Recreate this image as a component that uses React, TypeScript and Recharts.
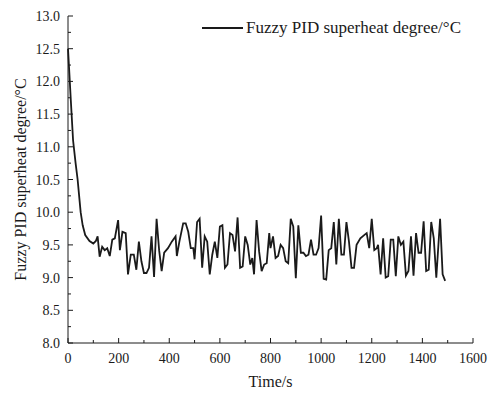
import { Legend, Line, LineChart, XAxis, YAxis } from "recharts";

const times = [
  0, 4, 11, 20, 30, 38, 44, 50, 58, 68, 85, 100, 110, 117, 125, 135, 145, 155, 165, 175, 185, 198,
  205, 215, 228, 237, 248, 260, 270, 280, 290, 300, 310, 320, 330, 340, 350, 360, 370, 380, 395,
  410, 425, 430, 440, 455, 465, 475, 485, 495, 500, 510, 520, 530, 540, 550, 560, 570, 580, 590,
  600, 610, 620, 630, 640, 650, 660, 670, 680, 690, 700, 710, 720, 728, 735, 745, 755, 765, 775,
  785, 795, 800, 810, 820, 830, 840, 850, 860, 870, 880, 890, 900, 910, 920, 930, 940, 950, 960,
  970, 980, 990, 1000, 1010, 1020, 1030, 1040, 1050, 1060, 1070, 1080, 1090, 1100, 1110, 1120,
  1130, 1140, 1155, 1170, 1180, 1190, 1200, 1210, 1220, 1225, 1235, 1245, 1255, 1265, 1275, 1285,
  1295, 1305, 1315, 1325, 1335, 1345, 1355, 1365, 1375, 1385, 1395, 1405, 1415, 1425, 1435, 1445,
  1455, 1470, 1480, 1490,
];

const superheat = [
  12.5, 12.22, 11.72, 11.1, 10.75, 10.5, 10.25, 10.0, 9.8, 9.65, 9.56, 9.52, 9.56, 9.63, 9.32, 9.47,
  9.42, 9.45, 9.33, 9.58, 9.6, 9.88, 9.42, 9.7, 9.68, 9.05, 9.35, 9.35, 9.12, 9.55, 9.25, 9.07,
  9.07, 9.15, 9.63, 9.01, 9.9, 9.42, 9.1, 9.38, 9.45, 9.55, 9.63, 9.33, 9.55, 9.83, 9.83, 9.7,
  9.45, 9.45, 9.28, 9.85, 9.9, 9.15, 9.63, 9.55, 9.05, 9.35, 9.55, 9.3, 9.78, 9.8, 9.15, 9.2,
  9.68, 9.65, 9.4, 9.92, 9.15, 9.17, 9.63, 9.5, 9.2, 9.3, 9.05, 9.88, 9.4, 9.1, 9.2, 9.22, 9.68,
  9.45, 9.63, 9.3, 9.33, 9.5, 9.45, 9.25, 9.22, 9.9, 9.78, 8.99, 9.8, 9.38, 9.38, 9.33, 9.35,
  9.58, 9.35, 9.35, 9.45, 9.95, 8.98, 8.97, 9.42, 9.45, 9.85, 9.2, 9.9, 9.35, 9.35, 9.85, 9.55,
  9.15, 9.15, 9.5, 9.6, 9.65, 9.68, 9.45, 9.9, 9.42, 9.45, 9.5, 9.05, 9.6, 9.0, 9.02, 9.58, 9.58,
  9.02, 9.63, 9.5, 9.55, 9.03, 9.1, 9.63, 9.03, 9.68, 9.38, 9.38, 9.86, 9.1, 9.12, 9.85, 9.6, 9.0,
  9.9, 9.05, 8.95,
];

const xTicks = [0, 100, 200, 300, 400, 500, 600, 700, 800, 900, 1000, 1100, 1200, 1300, 1400, 1500, 1600];
const yTicks = [8, 8.25, 8.5, 8.75, 9, 9.25, 9.5, 9.75, 10, 10.25, 10.5, 10.75, 11, 11.25, 11.5, 11.75, 12, 12.25, 12.5, 12.75, 13];

const seriesName = "Fuzzy PID superheat degree/°C";

const data = times.map((t, i) => ({ time: t, value: superheat[i] }));

const font = "'Liberation Serif', 'Times New Roman', serif";
const ink = "#1a1a1a";

function XTick(props: any) {
  const { x, y, payload } = props;
  const major = payload.value % 200 === 0;
  return (
    <g>
      <line x1={x} x2={x} y1={y} y2={y - (major ? 5 : 3)} stroke={ink} strokeWidth={1} />
      {major && (
        <text x={x} y={y + 20} textAnchor="middle" fontSize={14} fontFamily={font} fill={ink}>
          {payload.value}
        </text>
      )}
    </g>
  );
}

function YTick(props: any) {
  const { x, y, payload } = props;
  const major = Math.abs((payload.value * 2) % 1) < 1e-6;
  return (
    <g>
      <line x1={x} x2={x + (major ? 5 : 3)} y1={y} y2={y} stroke={ink} strokeWidth={1} />
      {major && (
        <text x={x - 8} y={y + 5} textAnchor="end" fontSize={14} fontFamily={font} fill={ink}>
          {payload.value.toFixed(1)}
        </text>
      )}
    </g>
  );
}

function LegendBox() {
  return (
    <svg width={280} height={24}>
      <line x1={2} x2={43} y1={12} y2={12} stroke={ink} strokeWidth={2} />
      <text x={46} y={17} fontSize={17} fontFamily={font} fill={ink}>
        {seriesName}
      </text>
    </svg>
  );
}

export default function App() {
  return (
    <div style={{ position: "absolute", left: 0, top: 0, background: "#fff" }}>
      <LineChart width={489} height={394} data={data} margin={{ top: 16, right: 16, bottom: 0, left: 0 }}>
        <XAxis
          dataKey="time"
          type="number"
          domain={[0, 1600]}
          ticks={xTicks}
          interval={0}
          tick={<XTick />}
          tickLine={false}
          tickSize={0}
          tickMargin={0}
          height={51}
          stroke={ink}
          label={{ value: "Time/s", position: "insideBottom", offset: 7, fontSize: 16, fontFamily: font, fill: ink }}
        />
        <YAxis
          type="number"
          domain={[8, 13]}
          ticks={yTicks}
          interval={0}
          tick={<YTick />}
          tickLine={false}
          tickSize={0}
          tickMargin={0}
          width={68}
          stroke={ink}
          label={{
            value: seriesName,
            angle: -90,
            position: "insideLeft",
            offset: 20,
            style: { textAnchor: "middle" },
            fontSize: 16,
            fontFamily: font,
            fill: ink,
          }}
        />
        <Legend
          content={<LegendBox />}
          layout="horizontal"
          verticalAlign="middle"
          align="center"
          wrapperStyle={{ position: "absolute", left: 200, top: 16, width: 280 }}
        />
        <Line
          dataKey="value"
          name={seriesName}
          type="linear"
          stroke={ink}
          strokeWidth={1.8}
          dot={false}
          isAnimationActive={false}
        />
      </LineChart>
    </div>
  );
}
